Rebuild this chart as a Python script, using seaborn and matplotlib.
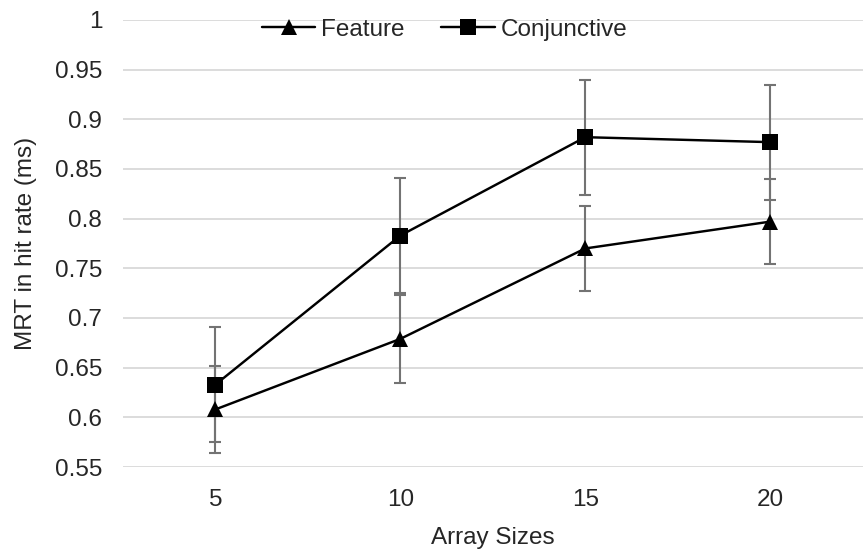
import numpy as np
import pandas as pd
import seaborn as sns
import matplotlib.pyplot as plt

sizes = [5, 10, 15, 20]
feature = [0.608, 0.679, 0.770, 0.797]
feature_err = [0.044, 0.044, 0.043, 0.043]
conjunctive = [0.633, 0.783, 0.882, 0.877]
conjunctive_err = [0.058, 0.058, 0.058, 0.058]

df = pd.DataFrame({
    'Array Sizes': sizes * 2,
    'MRT': feature + conjunctive,
    'err': feature_err + conjunctive_err,
    'Search': ['Feature'] * 4 + ['Conjunctive'] * 4,
})

sns.set_style('white')
plt.rcParams['font.family'] = ['Liberation Sans', 'DejaVu Sans']
fs = 17.5

fig = plt.figure(figsize=(8.64, 5.54), dpi=100)
ax = fig.add_axes([0.1424, 0.157, 0.856, 0.807])

# error bars first, behind the lines
for name, grp in df.groupby('Search', sort=False):
    ax.errorbar(grp['Array Sizes'], grp['MRT'], yerr=grp['err'], fmt='none',
                ecolor='#737373', elinewidth=1.5, capsize=4.6, capthick=1.5, zorder=2)

sns.lineplot(data=df, x='Array Sizes', y='MRT', hue='Search', style='Search',
             markers={'Feature': '^', 'Conjunctive': 's'}, dashes=False,
             palette={'Feature': 'black', 'Conjunctive': 'black'},
             linewidth=1.75, markersize=11, markeredgewidth=0, ax=ax, zorder=3)

ax.set_xlim(2.5, 22.5)
ax.set_ylim(0.55, 1.0)
ax.set_xticks(sizes)
ax.set_xticklabels([str(s) for s in sizes])
yt = np.round(np.arange(0.55, 1.001, 0.05), 2)
ax.set_yticks(yt)
ax.set_yticklabels(['1' if v == 1 else f'{v:g}' for v in yt])
ax.yaxis.grid(True, color='#d9d9d9', linewidth=1.3)
ax.set_axisbelow(True)
for s in ax.spines.values():
    s.set_visible(False)
ax.tick_params(axis='y', length=0, labelsize=fs, pad=15)
ax.tick_params(axis='x', length=0, labelsize=fs, pad=16)
ax.set_xlabel('Array Sizes', fontsize=fs, labelpad=11)
ax.set_ylabel('MRT in hit rate (ms)', fontsize=fs, labelpad=13)

ax.legend(loc='center', bbox_to_anchor=(0.435, 0.978), ncol=2, frameon=False,
          fontsize=fs, handlelength=2.2, columnspacing=1.5, handletextpad=0.25,
          borderaxespad=0)

fig.savefig('out.png', dpi=100)
